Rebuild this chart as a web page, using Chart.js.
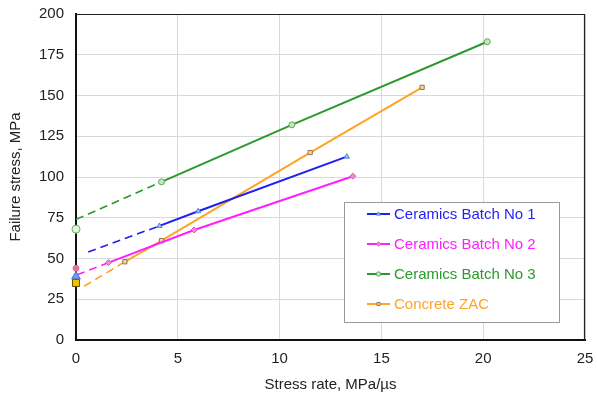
<!DOCTYPE html>
<html>
<head>
<meta charset="utf-8">
<script src="https://cdn.jsdelivr.net/npm/chart.js@4.4.0/dist/chart.umd.min.js"></script>
<style>
  html, body { margin: 0; padding: 0; background: #fff; }
  #wrap { width: 597px; height: 401px; }
</style>
</head>
<body>
<div id="wrap"><canvas id="failureChart" width="597" height="401"></canvas></div>
<script>
// series names and styling
const seriesNames = ['Ceramics Batch No 1', 'Ceramics Batch No 2', 'Ceramics Batch No 3', 'Concrete ZAC'];
const seriesColors = ['#1f1ff5', '#ff1fff', '#2b992b', '#ffa424'];
const pointFills = ['#a8c4ee', '#f28ad6', '#c4e6bc', '#f0d6a4'];
const pointEdges = ['#4f7fd0', '#d65aa8', '#5aa85a', '#9a7448'];
const pointShapes = ['triangle', 'rectRot', 'circle', 'rect'];

// measured failure stress (MPa) vs stress rate (MPa/us)
const batch1Rate = [4.1, 6.0, 13.3];
const batch1Stress = [70, 79, 112.5];
const batch2Rate = [1.6, 5.8, 13.6];
const batch2Stress = [47.5, 67.5, 100.5];
const batch3Rate = [4.2, 10.6, 20.2];
const batch3Stress = [97, 132, 183];
const zacRate = [2.4, 4.2, 11.5, 17.0];
const zacStress = [48, 61, 115, 155];

// dashed extensions toward zero rate
const batch1ExtRate = [0.6, 4.1];
const batch1ExtStress = [54, 70];
const batch2ExtRate = [0.05, 1.6];
const batch2ExtStress = [40, 47.5];
const batch3ExtRate = [0, 4.2];
const batch3ExtStress = [74, 97];
const zacExtRate = [0.4, 2.4];
const zacExtStress = [33, 48];

// quasi-static strength, plotted at zero rate
const staticStress = [39, 44, 68, 35];
const staticFills = ['#6f9fe2', '#e8708e', '#e4f2de', '#f2c200'];
const staticEdges = ['#3f6fc8', '#e8708e', '#6ab06a', '#6a5000'];
const staticSizes = [5, 3, 4, 5];

// ticks
const xTicks = [0, 5, 10, 15, 20, 25];
const yTicks = [0, 25, 50, 75, 100, 125, 150, 175, 200];

const toPoints = (xs, ys) => xs.map((x, i) => ({ x: x, y: ys[i] }));

const measured = [
    toPoints(batch1Rate, batch1Stress),
    toPoints(batch2Rate, batch2Stress),
    toPoints(batch3Rate, batch3Stress),
    toPoints(zacRate, zacStress)
];
const extensions = [
    toPoints(batch1ExtRate, batch1ExtStress),
    toPoints(batch2ExtRate, batch2ExtStress),
    toPoints(batch3ExtRate, batch3ExtStress),
    toPoints(zacExtRate, zacExtStress)
];

const datasets = [];
measured.forEach((pts, i) => {
    datasets.push({
        label: seriesNames[i],
        data: pts,
        showLine: true,
        borderColor: seriesColors[i],
        borderWidth: 2,
        pointStyle: pointShapes[i],
        pointRadius: 3,
        pointBackgroundColor: pointFills[i],
        pointBorderColor: pointEdges[i],
        pointBorderWidth: 1,
        clip: false,
        inLegend: true,
        order: 1
    });
});
extensions.forEach((pts, i) => {
    datasets.push({
        label: seriesNames[i] + ' (ext)',
        data: pts,
        showLine: true,
        borderColor: seriesColors[i],
        borderWidth: 1.6,
        borderDash: [8, 5],
        pointRadius: 0,
        clip: false,
        order: 2
    });
});
staticStress.forEach((s, i) => {
    datasets.push({
        label: seriesNames[i] + ' (static)',
        data: [{ x: 0, y: s }],
        showLine: false,
        pointStyle: pointShapes[i] === 'rectRot' ? 'circle' : pointShapes[i],
        pointRadius: staticSizes[i],
        pointBackgroundColor: staticFills[i],
        pointBorderColor: staticEdges[i],
        pointBorderWidth: 1,
        clip: false,
        order: 0
    });
});

// top/right frame and the boxed legend inside the plot
const frameAndLegend = {
    id: 'frameAndLegend',
    afterDraw(chart) {
        const { ctx, chartArea: a } = chart;
        ctx.save();
        ctx.strokeStyle = '#222';
        ctx.lineWidth = 1.2;
        ctx.beginPath();
        ctx.moveTo(a.left, a.top + 0.5);
        ctx.lineTo(a.right - 0.5, a.top + 0.5);
        ctx.lineTo(a.right - 0.5, a.bottom);
        ctx.stroke();

        const bx = 344, by = 202, bw = 215, bh = 120;
        ctx.fillStyle = '#fff';
        ctx.fillRect(bx, by, bw, bh);
        ctx.strokeStyle = '#9a9a9a';
        ctx.lineWidth = 1;
        ctx.strokeRect(bx + 0.5, by + 0.5, bw, bh);

        ctx.font = '15px "Liberation Sans", Arial, sans-serif';
        ctx.textBaseline = 'middle';
        chart.data.datasets.filter(d => d.inLegend).forEach((d, i) => {
            const y = by + 12 + i * 30;
            ctx.strokeStyle = d.borderColor;
            ctx.lineWidth = 2;
            ctx.beginPath();
            ctx.moveTo(367, y);
            ctx.lineTo(390, y);
            ctx.stroke();
            ctx.fillStyle = d.pointBackgroundColor;
            ctx.strokeStyle = d.pointBorderColor;
            ctx.lineWidth = 1;
            Chart.helpers.drawPoint(ctx, { pointStyle: d.pointStyle, radius: 2.2, borderWidth: 1 }, 378.5, y);
            ctx.fillStyle = d.borderColor;
            ctx.fillText(d.label, 394, y + 1);
        });
        ctx.restore();
    }
};

const fontFamily = '"Liberation Sans", Arial, sans-serif';

// fixed axis box sizes, no extra room for overhanging tick labels
const fixSize = (prop, size) => scale => {
    scale[prop] = size;
    scale.paddingTop = 0;
    scale.paddingBottom = 0;
    scale.paddingLeft = 0;
    scale.paddingRight = 0;
};

new Chart(document.getElementById('failureChart'), {
    type: 'scatter',
    data: { datasets: datasets },
    options: {
        responsive: false,
        animation: false,
        layout: { padding: { top: 14, right: 12, left: 0, bottom: 0 } },
        plugins: {
            legend: { display: false },
            tooltip: { enabled: false }
        },
        scales: {
            x: {
                type: 'linear',
                min: 0,
                max: 25,
                afterBuildTicks: scale => { scale.ticks = xTicks.map(v => ({ value: v })); },
                afterFit: fixSize('height', 61),
                grid: { color: '#d9d9d9', lineWidth: 1, drawTicks: false },
                border: { display: true, color: '#111', width: 2 },
                ticks: {
                    padding: 10,
                    color: '#222',
                    font: { family: fontFamily, size: 15 }
                },
                title: {
                    display: true,
                    text: 'Stress rate, MPa/\u00b5s',
                    color: '#222',
                    font: { family: fontFamily, size: 15 },
                    padding: { top: 0, bottom: 7 }
                }
            },
            y: {
                type: 'linear',
                min: 0,
                max: 200,
                afterBuildTicks: scale => { scale.ticks = yTicks.map(v => ({ value: v })); },
                afterFit: fixSize('width', 76),
                grid: { color: '#d9d9d9', lineWidth: 1, drawTicks: false },
                border: { display: true, color: '#111', width: 2 },
                ticks: {
                    padding: 12,
                    color: '#222',
                    font: { family: fontFamily, size: 15 }
                },
                title: {
                    display: true,
                    text: 'Failure stress, MPa',
                    color: '#222',
                    font: { family: fontFamily, size: 15 },
                    padding: { top: 7, bottom: 0 }
                }
            }
        }
    },
    plugins: [frameAndLegend]
});
</script>
</body>
</html>
